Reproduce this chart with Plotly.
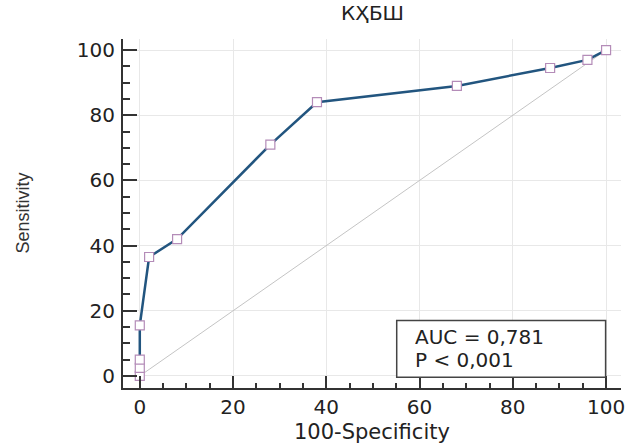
import plotly.graph_objects as go

# ROC data (100-Specificity, Sensitivity)
fpr = [0, 0, 0, 0, 2, 8, 28, 38, 68, 88, 96, 100]
tpr = [0, 2.5, 5, 15.5, 36.5, 42, 71, 84, 89, 94.5, 97, 100]
diag_x = [0, 100]
diag_y = [0, 100]
tick_vals = [0, 20, 40, 60, 80, 100]
title_text = "КҲБШ"
x_title = "100-Specificity"
y_title = "Sensitivity"
auc_text = "AUC = 0,781"
p_text = "P &lt; 0,001"

fig = go.Figure()
fig.add_trace(go.Scatter(x=diag_x, y=diag_y, mode="lines",
                         line=dict(color="#c4c4c4", width=1), hoverinfo="skip",
                         showlegend=False))
fig.add_trace(go.Scatter(x=fpr, y=tpr, mode="lines+markers",
                         line=dict(color="#22557f", width=2.5),
                         marker=dict(symbol="square", size=9, color="white",
                                     line=dict(color="#b48cb8", width=1.2)),
                         showlegend=False))

axis_common = dict(
    showline=True, linecolor="#333333", linewidth=2, mirror=False,
    ticks="inside", tickcolor="#333333", tickwidth=1.5,
    tickvals=tick_vals, showgrid=True, gridcolor="#e8e8e8", gridwidth=1,
    zeroline=False, automargin=False,
    tickfont=dict(family="DejaVu Sans", size=20, color="#222222"),
)

fig.update_xaxes(range=[-3.6, 103.2], ticklen=12,
                 minor=dict(dtick=5, ticks="inside", ticklen=5, tickcolor="#333333", showgrid=False),
                 **axis_common)
fig.update_yaxes(range=[-3.7, 103.4], ticklen=14, ticklabelstandoff=2,
                 minor=dict(dtick=5, ticks="inside", ticklen=7, tickcolor="#333333", showgrid=False),
                 **axis_common)

# AUC box
fig.add_shape(type="rect", xref="x", yref="y", x0=55.1, x1=99.9, y0=-0.4, y1=17,
              line=dict(color="#444444", width=1.5), fillcolor="white", layer="above")
for txt, yy in ((auc_text, 12.0), (p_text, 4.9)):
    fig.add_annotation(xref="x", yref="y", x=58.6, y=yy, xanchor="left", yanchor="middle",
                       text=txt, align="left", showarrow=False,
                       font=dict(family="DejaVu Sans", size=20, color="#222222"))

# Titles
fig.add_annotation(xref="paper", yref="paper", x=0.5, y=0, yanchor="middle", yshift=-44,
                   text=x_title, showarrow=False,
                   font=dict(family="DejaVu Sans", size=21, color="#222222"))
fig.add_annotation(xref="paper", yref="paper", x=0, y=0.5, xanchor="center", yanchor="middle",
                   xshift=-101, textangle=-90, text=y_title, showarrow=False,
                   font=dict(family="Liberation Sans", size=18, color="#333333"))
fig.add_annotation(xref="paper", yref="paper", x=0.5, y=1, yanchor="middle", yshift=26,
                   text=title_text, showarrow=False,
                   font=dict(family="DejaVu Sans", size=20, color="#222222"))

fig.update_layout(width=629, height=443, margin=dict(l=123, r=8, t=39, b=55),
                  paper_bgcolor="white", plot_bgcolor="white")

fig.write_html("out.html", config={"displayModeBar": False},
               post_script="document.body.style.margin='0';document.body.style.overflow='hidden';")
